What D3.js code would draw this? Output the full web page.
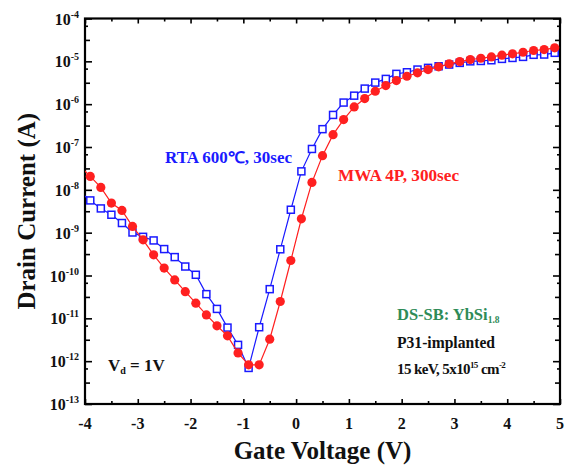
<!DOCTYPE html>
<html>
<head>
<meta charset="utf-8">
<script src="https://cdn.jsdelivr.net/npm/d3@7"></script>
<style>
  html, body { margin: 0; padding: 0; background: #fff; }
  svg { display: block; }
  text { font-family: "Liberation Serif", "Times New Roman", serif; font-weight: bold; }
</style>
</head>
<body>
<svg id="chart" width="566" height="465"></svg>
<script>
// ---- data ----
const gateVoltage = [-4.1, -3.9, -3.7, -3.5, -3.3, -3.1, -2.9, -2.7, -2.5, -2.3, -2.1, -1.9, -1.7, -1.5, -1.3, -1.1,
  -0.9, -0.7, -0.5, -0.3, -0.1, 0.1, 0.3, 0.5, 0.7, 0.9, 1.1, 1.3, 1.5, 1.7, 1.9, 2.1, 2.3, 2.5, 2.7, 2.9,
  3.1, 3.3, 3.5, 3.7, 3.9, 4.1, 4.3, 4.5, 4.7, 4.9];
const rtaCurrent = [9.0e-9, 5.66e-9, 3.68e-9, 2.62e-9, 1.68e-9, 1.01e-9, 8.0e-10, 6.58e-10, 4.14e-10, 2.69e-10,
  1.62e-10, 1.04e-10, 3.67e-11, 1.66e-11, 6.08e-12, 2.4e-12, 6.95e-13, 6.2e-12, 4.8e-11, 4.09e-10, 3.43e-9,
  2.7e-8, 9.0e-8, 2.61e-7, 5.61e-7, 1.09e-6, 1.58e-6, 2.31e-6, 3.19e-6, 3.89e-6, 5.1e-6, 5.56e-6, 6.43e-6,
  7.04e-6, 7.67e-6, 8.41e-6, 9.2e-6, 1.0e-5, 1.02e-5, 1.06e-5, 1.14e-5, 1.2e-5, 1.27e-5, 1.42e-5, 1.44e-5, 1.58e-5];
const mwaCurrent = [3.66e-8, 2.06e-8, 1.14e-8, 4.92e-9, 3.30e-9, 1.40e-9, 6.8e-10, 3.04e-10, 1.49e-10, 7.9e-11,
  4.2e-11, 2.26e-11, 1.2e-11, 6.7e-12, 3.9e-12, 1.56e-12, 8.2e-13, 8.2e-13, 3.26e-12, 2.47e-11, 2.24e-10,
  2.11e-9, 1.49e-8, 6.28e-8, 1.94e-7, 4.36e-7, 8.63e-7, 1.35e-6, 2.0e-6, 2.72e-6, 3.56e-6, 4.48e-6, 5.38e-6,
  6.43e-6, 7.43e-6, 8.73e-6, 9.88e-6, 1.10e-5, 1.18e-5, 1.27e-5, 1.39e-5, 1.50e-5, 1.63e-5, 1.79e-5, 1.88e-5, 2.07e-5];
const xTickValues = [-4, -3, -2, -1, 0, 1, 2, 3, 4, 5];
const xMinorValues = [-3.5, -2.5, -1.5, -0.5, 0.5, 1.5, 2.5, 3.5, 4.5];
const yExponents = [-4, -5, -6, -7, -8, -9, -10, -11, -12, -13];
const seriesNames = ["RTA 600\u2103, 30sec", "MWA 4P, 300sec"];

// ---- layout ----
const svg = d3.select("#chart");
const L = 85, R = 560, T = 18.5, B = 404;
const x = d3.scaleLinear().domain([-4, 5]).range([L, R]);
const y = d3.scaleLog().domain([1e-13, 1e-4]).range([B, T]);

const blue = "#1a1aff", red = "#ff2020";

svg.append("defs").append("clipPath").attr("id", "clip")
  .append("rect").attr("x", L).attr("y", T).attr("width", R - L).attr("height", B - T);

// ---- axes (inward ticks) ----
const minorY1 = [], minorY2 = [];
yExponents.forEach(e => { if (e > -13) { minorY1.push(Math.pow(10, e - 0.17)); minorY2.push(Math.pow(10, e - 0.5)); } });

function axisGroup(axisFn, transform) {
  const g = svg.append("g").attr("transform", transform).call(axisFn);
  g.select(".domain").remove();
  g.selectAll("text").remove();
  g.selectAll("line").attr("stroke", "#000").attr("stroke-width", 1.6);
  return g;
}
axisGroup(d3.axisBottom(x).tickValues(xTickValues).tickSize(-5).tickSizeOuter(0), `translate(0,${B})`);
axisGroup(d3.axisBottom(x).tickValues(xMinorValues).tickSize(-3).tickSizeOuter(0), `translate(0,${B})`);
axisGroup(d3.axisTop(x).tickValues(xTickValues).tickSize(-5).tickSizeOuter(0), `translate(0,${T})`);
axisGroup(d3.axisTop(x).tickValues(xMinorValues).tickSize(-3).tickSizeOuter(0), `translate(0,${T})`);
const yMajor = yExponents.map(e => Math.pow(10, e));
axisGroup(d3.axisLeft(y).tickValues(yMajor).tickSize(-7).tickSizeOuter(0), `translate(${L},0)`);
axisGroup(d3.axisLeft(y).tickValues(minorY2).tickSize(-5).tickSizeOuter(0), `translate(${L},0)`);
axisGroup(d3.axisLeft(y).tickValues(minorY1).tickSize(-3).tickSizeOuter(0), `translate(${L},0)`);
axisGroup(d3.axisRight(y).tickValues(yMajor).tickSize(-7).tickSizeOuter(0), `translate(${R},0)`);
axisGroup(d3.axisRight(y).tickValues(minorY2).tickSize(-5).tickSizeOuter(0), `translate(${R},0)`);
axisGroup(d3.axisRight(y).tickValues(minorY1).tickSize(-3).tickSizeOuter(0), `translate(${R},0)`);

svg.append("rect").attr("x", L).attr("y", T).attr("width", R - L).attr("height", B - T)
  .attr("fill", "none").attr("stroke", "#000").attr("stroke-width", 2.2);

// tick labels
svg.append("g").selectAll("text").data(xTickValues).join("text")
  .attr("x", d => x(d)).attr("y", 429).attr("text-anchor", "middle")
  .attr("font-size", 16).attr("fill", "#111").text(d => d);

const yl = svg.append("g").selectAll("text").data(yExponents).join("text")
  .attr("x", 79).attr("y", d => y(Math.pow(10, d)) + 6).attr("text-anchor", "end")
  .attr("font-size", 16).attr("fill", "#111");
yl.append("tspan").text("10");
yl.append("tspan").attr("dy", -7).attr("font-size", 10).text(d => "-" + Math.abs(d));

// axis titles
svg.append("text").attr("x", (L + R) / 2).attr("y", 459).attr("text-anchor", "middle")
  .attr("font-size", 25).attr("fill", "#111").text("Gate Voltage (V)");
svg.append("text").attr("transform", `translate(35,${(T + B) / 2}) rotate(-90)`).attr("text-anchor", "middle")
  .attr("font-size", 25).attr("fill", "#111").text("Drain Current (A)");

// ---- series ----
const plot = svg.append("g").attr("clip-path", "url(#clip)");
const rta = gateVoltage.map((v, i) => [v, rtaCurrent[i]]);
const mwa = gateVoltage.map((v, i) => [v, mwaCurrent[i]]);
const line = d3.line().x(d => x(d[0])).y(d => y(d[1]));

plot.append("path").datum(rta).attr("d", line).attr("fill", "none").attr("stroke", blue).attr("stroke-width", 1.2);
plot.append("g").selectAll("rect").data(rta).join("rect")
  .attr("x", d => x(d[0]) - 3.5).attr("y", d => y(d[1]) - 3.5).attr("width", 7).attr("height", 7)
  .attr("fill", "#fff").attr("stroke", blue).attr("stroke-width", 1.5);

plot.append("path").datum(mwa).attr("d", line).attr("fill", "none").attr("stroke", red).attr("stroke-width", 1.2);
plot.append("g").selectAll("circle").data(mwa).join("circle")
  .attr("cx", d => x(d[0])).attr("cy", d => y(d[1])).attr("r", 4.6).attr("fill", red);

// ---- annotations ----
svg.append("text").attr("x", 165).attr("y", 163).attr("font-size", 16).attr("fill", blue)
  .attr("textLength", 127).attr("lengthAdjust", "spacingAndGlyphs").text(seriesNames[0]);
svg.append("text").attr("x", 338).attr("y", 181).attr("font-size", 16).attr("fill", red)
  .attr("textLength", 121).attr("lengthAdjust", "spacingAndGlyphs").text(seriesNames[1]);

const ds = svg.append("text").attr("x", 397).attr("y", 320).attr("font-size", 16.5).attr("fill", "#2e8b57");
ds.append("tspan").text("DS-SB: YbSi");
ds.append("tspan").attr("dy", 3).attr("font-size", 9.5).text("1.8");

svg.append("text").attr("x", 397).attr("y", 348).attr("font-size", 16).attr("fill", "#111")
  .attr("textLength", 98).attr("lengthAdjust", "spacingAndGlyphs").text("P31-implanted");
const ke = svg.append("text").attr("x", 397).attr("y", 374).attr("font-size", 15).attr("fill", "#111")
  .attr("letter-spacing", -0.6);
ke.append("tspan").text("15 keV, 5x10");
ke.append("tspan").attr("dy", -6).attr("font-size", 9).text("15");
ke.append("tspan").attr("dy", 6).text(" cm");
ke.append("tspan").attr("dy", -6).attr("font-size", 9).text("-2");

const vd = svg.append("text").attr("x", 108).attr("y", 371).attr("font-size", 17).attr("fill", "#111");
vd.append("tspan").text("V");
vd.append("tspan").attr("dy", 3).attr("font-size", 10).text("d");
vd.append("tspan").attr("dy", -3).text(" = 1V");
</script>
</body>
</html>
